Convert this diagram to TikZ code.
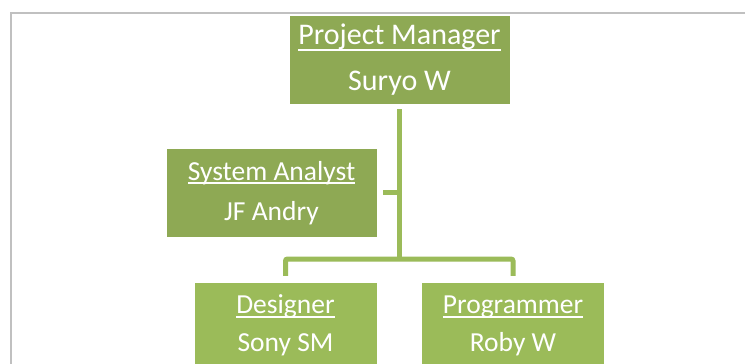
\documentclass[tikz,border=0pt]{standalone}
\usepackage{fontspec}
\setmainfont{Carlito}
\definecolor{darkolive}{HTML}{8EA954}
\definecolor{lightolive}{HTML}{9BBB59}
\definecolor{framegrey}{HTML}{C0C0C0}
\newcommand\ulin[2]{\setbox0\hbox{#2}\rlap{\rule[-#1]{\wd0}{2pt}}\box0}
\tikzset{
  boxdark/.style={fill=darkolive, draw=white, line width=0.5pt, inner sep=0pt, minimum width=221pt, minimum height=89pt},
  boxsa/.style={fill=darkolive, draw=white, line width=0.5pt, inner sep=0pt, minimum width=211pt, minimum height=89pt},
  boxlight/.style={fill=lightolive, draw=white, line width=0.5pt, inner sep=0pt, minimum width=183pt, minimum height=89pt},
  bigtxt/.style={text=white, inner sep=0pt, anchor=base, font=\fontsize{30}{36}\selectfont},
  txt/.style={text=white, inner sep=0pt, anchor=base, font=\fontsize{27.5}{33}\selectfont},
  conn/.style={draw=lightolive, line width=5pt},
  frameline/.style={draw=framegrey, line width=2pt}
}
\begin{document}
\begin{tikzpicture}[x=1pt,y=-1pt]
\useasboundingbox (0,0) rectangle (745,364);
\fill[white] (0,0) rectangle (745,364);
\draw[frameline] (11,365) -- (11,13) -- (746,13);
% boxes
\node[boxdark] (pm) at (399.5,59.5) {};
\node[boxsa] (sa) at (271.5,192.5) {};
\node[boxlight] (des) at (285.5,326.5) {};
\node[boxlight] (prog) at (513,326.5) {};
% texts
\node[bigtxt] (pmt) at (399.5,44.3) {\ulin{7pt}{Project Manager}};
\node[bigtxt] (pmn) at (399.5,90.7) {Suryo W};
\node[txt] (sat) at (271.5,180) {\ulin{3.8pt}{System Analyst}};
\node[txt] (san) at (271.5,220.7) {JF Andry};
\node[txt] (dest) at (285.5,313.3) {\ulin{4.8pt}{Designer}};
\node[txt] (desn) at (285.5,351.7) {Sony SM};
\node[txt] (progt) at (513,313.3) {\ulin{4.8pt}{Programmer}};
\node[txt] (progn) at (513,351.7) {Roby W};
% connectors
\coordinate (hub) at (399.5,259);
\draw[conn] ([yshift=-5pt]pm.south) -- (hub);
\draw[conn] ([xshift=6pt]sa.east) -- (sa.east -| hub);
\draw[conn, rounded corners=2pt] ([yshift=6pt]des.north) |- (hub) -| ([yshift=6pt]prog.north);
\end{tikzpicture}
\end{document}
